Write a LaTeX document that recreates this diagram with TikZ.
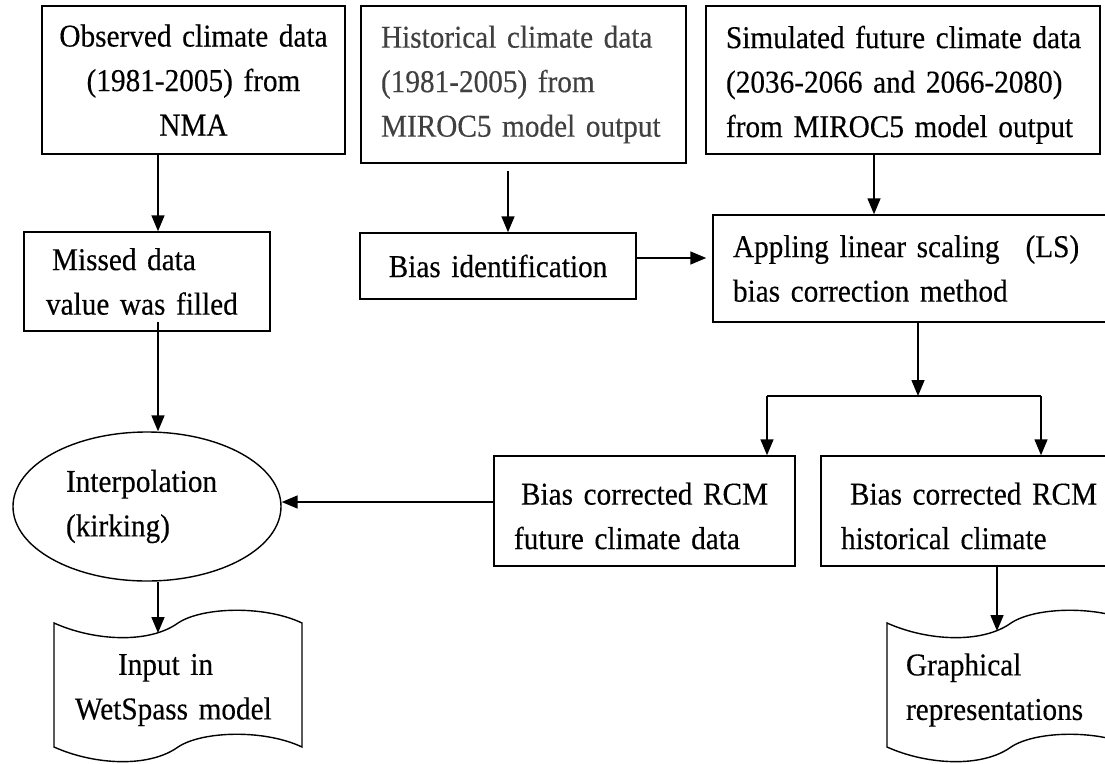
\documentclass[tikz,border=0pt]{standalone}
\usepackage{fontspec}
\setmainfont{Liberation Serif}[FakeStretch=0.92,WordSpace=0.8,FakeBold=0.3]
\usetikzlibrary{shapes.geometric,arrows.meta,calc}
\tikzset{
  txt/.style={font=\fontsize{31.8}{44.5}\selectfont},
  box/.style={txt,draw,line width=1.5pt,rectangle,inner ysep=0pt,align=left},
  arr/.style={line width=1.6pt,-{Triangle[length=16pt,width=13pt]}},
  plainline/.style={line width=1.6pt},
  docline/.style={line width=1.4pt},
}
\begin{document}
\begin{tikzpicture}[x=1pt,y=-1pt]
\useasboundingbox (0,0) rectangle (1105,763);
\fill[white] (0,0) rectangle (1105,763);
\clip (0,0) rectangle (1105,763);

% boxes
\node[box,align=center,minimum width=303pt,minimum height=148pt,text width=283pt,inner xsep=10pt] (obs) at (193.5,80)
  {Observed climate data\\(1981-2005) from\\NMA};
\node[box,minimum width=325pt,minimum height=157pt,text width=285pt,inner xsep=20pt,text=black!75] (hist) at (523.5,84.5)
  {\mbox{Historical climate data}\\(1981-2005) from\\\mbox{MIROC5 model output}};
\node[box,minimum width=394pt,minimum height=148pt,text width=354pt,inner xsep=20pt] (sim) at (903,80)
  {\rule{0pt}{32pt}\mbox{Simulated future climate data}\\\mbox{(2036-2066 and 2066-2080)}\\\mbox{from MIROC5 model output}};
\node[box,minimum width=246pt,minimum height=99pt,text width=202pt,inner xsep=22pt] (missed) at (147,281.5)
  {\hspace*{6pt}Missed data\\\mbox{value was filled}};
\node[box,align=center,minimum width=276pt,minimum height=66pt,text width=256pt,inner xsep=10pt] (biasid) at (498,266)
  {Bias identification};
\node[box,minimum width=412pt,minimum height=107pt,text width=372pt,inner xsep=20pt] (appl) at (919,268.5)
  {\mbox{Appling linear scaling\hspace{26pt}(LS)}\\bias correction method};
\node[box,minimum width=301pt,minimum height=110pt,text width=261pt,inner xsep=20pt] (fut) at (644.5,511)
  {\rule{0pt}{32pt}\hspace*{7pt}\mbox{Bias corrected RCM}\\future climate data};
\node[box,minimum width=301pt,minimum height=110pt,text width=261pt,inner xsep=20pt] (hcl) at (971.5,511)
  {\rule{0pt}{32pt}\hspace*{9pt}\mbox{Bias corrected RCM}\\historical climate};
\node[txt,ellipse,draw,line width=1.4pt,minimum width=268pt,minimum height=149pt,inner sep=0pt,text width=162pt,align=left] (interp) at (147,506.5)
  {Interpolation\\(kirking)};

% documents
\node[txt,minimum width=248pt,minimum height=124pt,inner ysep=0pt,inner xsep=21pt,text width=206pt,align=left] (doca) at (178,690)
  {\hspace*{43pt}Input in\\\mbox{WetSpass model}};
\node[txt,minimum width=248pt,minimum height=124pt,inner ysep=0pt,inner xsep=19pt,text width=210pt,align=left] (docb) at (1011,690)
  {Graphical\\representations};

\begin{scope}[shift={(54,623)}]
  \draw[docline] (0,0) .. controls (40,18) and (95,21) .. (124,0)
    .. controls (148,-16) and (210,-18) .. (248,0) -- (248,124)
    .. controls (210,106) and (148,108) .. (124,124)
    .. controls (95,145) and (40,142) .. (0,124) -- cycle;
  \coordinate (dain) at (104,10);
\end{scope}
\begin{scope}[shift={(887,623)}]
  \draw[docline] (0,0) .. controls (40,18) and (95,21) .. (124,0)
    .. controls (148,-16) and (210,-18) .. (248,0) -- (248,124)
    .. controls (210,106) and (148,108) .. (124,124)
    .. controls (95,145) and (40,142) .. (0,124) -- cycle;
  \coordinate (dbin) at (110,8);
\end{scope}

% helper coordinates
\coordinate (xa) at (158,0);
\coordinate (xb) at (508,0);
\coordinate (xc) at (874,0);
\coordinate (ya) at (0,258);
\coordinate (yb) at (0,502);
\coordinate (br) at (918,396);
\coordinate (brl) at (767,396);
\coordinate (brr) at (1041,396);
\coordinate (ymiss) at (0,322);

% connectors
\draw[arr] (obs.south -| xa) -- (missed.north -| xa);
\draw[arr,shorten <=7pt] (hist.south -| xb) -- (biasid.north -| xb);
\draw[arr] (sim.south -| xc) -- (appl.north -| xc);
\draw[arr,shorten >=6pt] (biasid.east |- ya) -- (appl.west |- ya);
\draw[arr] (appl.south -| br) -- (br);
\draw[plainline] (brl) -- (brr);
\draw[arr] (brl) -- (fut.north -| brl);
\draw[arr] (brr) -- (hcl.north -| brr);
\draw[arr] (xa |- ymiss) -- (interp.north -| xa);
\draw[arr] (fut.west |- yb) -- (interp.east |- yb);
\draw[arr] (interp.south -| dain) -- (dain);
\draw[arr] (hcl.south -| dbin) -- (dbin);
\end{tikzpicture}
\end{document}
